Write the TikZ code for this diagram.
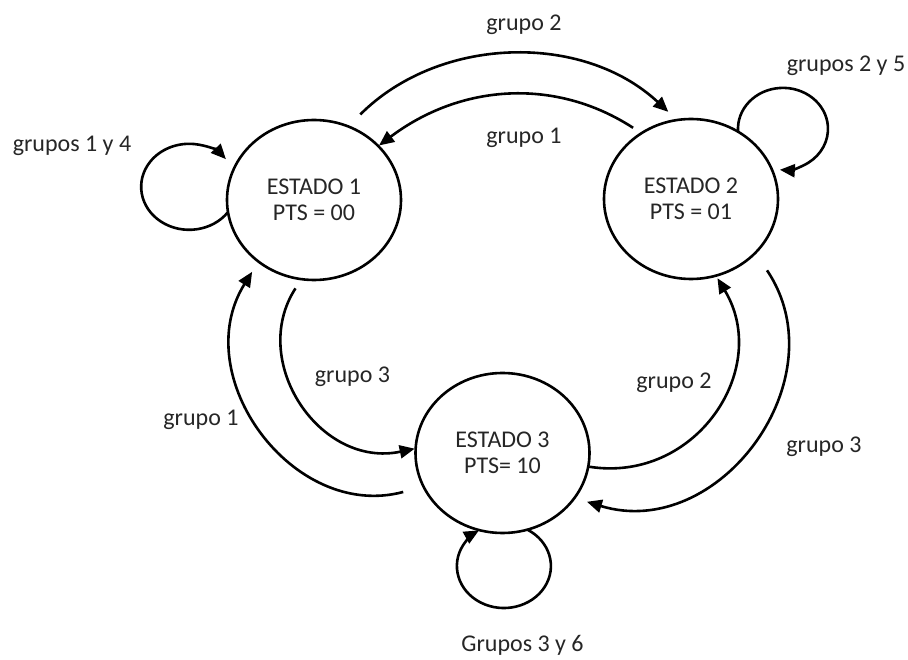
\documentclass[tikz,border=0pt]{standalone}
\usepackage{fontspec}
\setmainfont{Carlito}
\usetikzlibrary{shapes.geometric,arrows.meta}

\tikzset{
  diagfont/.style={font=\fontsize{24pt}{26pt}\selectfont, text=black!85},
  state/.style={draw, ellipse, line width=2.6pt, minimum width=174pt,
    minimum height=160pt, inner sep=0pt, outer sep=0pt, align=center, diagfont},
  link/.style={line width=2.6pt, -{Triangle[length=15pt,width=13pt]}},
  lbl/.style={anchor=base, inner sep=0pt, diagfont}
}

\begin{document}
\begin{tikzpicture}[x=1pt, y=1pt]
  \useasboundingbox (0,0) rectangle (908,659);

  % states
  \node[state] (s1) at (314,459)   {ESTADO 1\\PTS = 00};
  \node[state] (s2) at (691,460)   {ESTADO 2\\PTS = 01};
  \node[state] (s3) at (502.5,206) {ESTADO 3\\PTS= 10};

  % transitions between states
  \draw[link, shorten <=17pt, shorten >=12pt] (s1.65) to[out=45, in=137] (s2.100);
  \draw[link, shorten <=10pt, shorten >=1pt] (s2.127) to[out=147, in=37] (s1.40);
  \draw[link, shorten <=11pt, shorten >=1pt] (s1.261) to[out=237, in=192, looseness=1.23] (s3.177);
  \draw[link, shorten <=21pt, shorten >=12pt] (s3.203) to[out=195, in=238, looseness=1.24] (s1.228);
  \draw[link, shorten <=1pt, shorten >=3pt] (s3.351) to[out=351, in=301, looseness=1.21] (s2.288);
  \draw[link, shorten <=21pt, shorten >=13pt] (s2.320) to[out=304, in=343, looseness=1.27] (s3.328);

  % self loops
  \draw[link] (s1.188) arc[start angle=-36, end angle=-320, x radius=48, y radius=43];
  \draw[link] (s2.55) arc[start angle=184, end angle=-94, x radius=45, y radius=41];
  \draw[link] (s3.-72) arc[start angle=60, end angle=-238, x radius=47, y radius=42];

  % transition labels
  \node[lbl] (l14) at (72,507.3)    {grupos 1 y 4};
  \node[lbl] (l2a) at (524,628.3)   {grupo 2};
  \node[lbl] (l1a) at (524,515)     {grupo 1};
  \node[lbl] (l25) at (846,587.3)   {grupos 2 y 5};
  \node[lbl] (l3a) at (352.5,276.7) {grupo 3};
  \node[lbl] (l1b) at (201,233)     {grupo 1};
  \node[lbl] (l2b) at (674,270.7)   {grupo 2};
  \node[lbl] (l3b) at (824,206.7)   {grupo 3};
  \node[lbl] (l36) at (522.5,7.3)   {Grupos 3 y 6};
\end{tikzpicture}
\end{document}
